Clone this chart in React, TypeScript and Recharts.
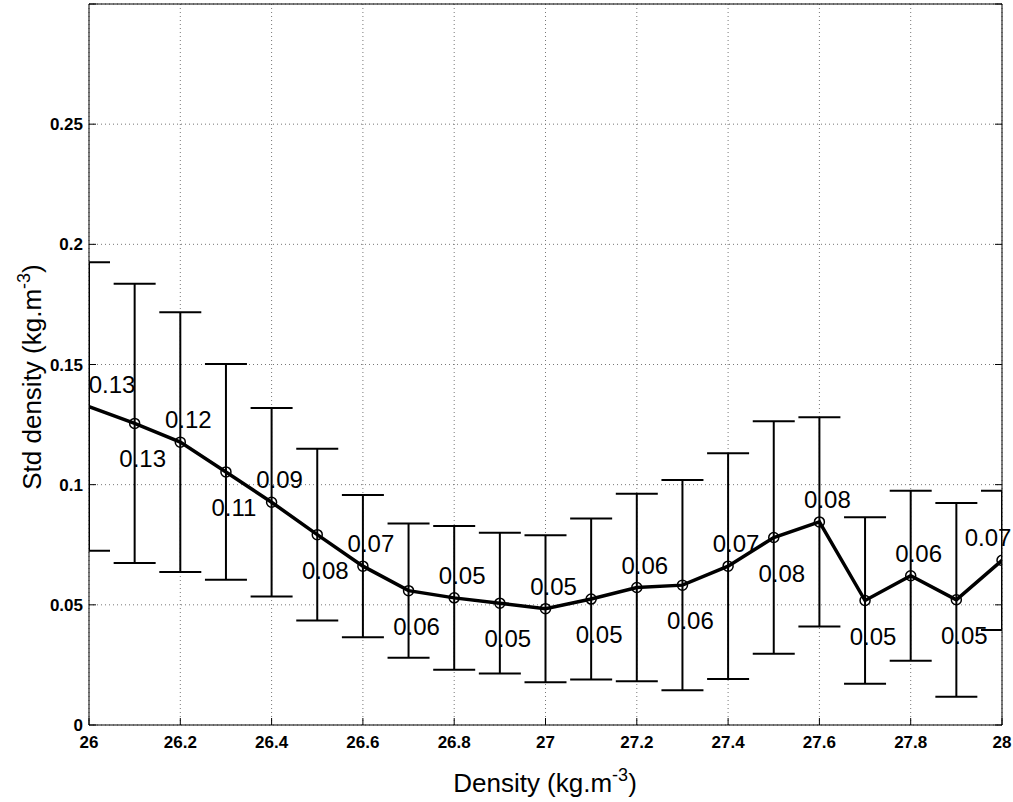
import React from 'react';
import { ComposedChart, Line, XAxis, YAxis, CartesianGrid, ErrorBar, LabelList } from 'recharts';

// density bins (kg.m-3)
const densities = [26, 26.1, 26.2, 26.3, 26.4, 26.5, 26.6, 26.7, 26.8, 26.9, 27, 27.1, 27.2, 27.3, 27.4, 27.5, 27.6, 27.7, 27.8, 27.9, 28];
// mean std of density per bin
const stdValues = [0.1325, 0.1255, 0.1177, 0.1053, 0.0927, 0.0792, 0.0661, 0.0559, 0.0529, 0.0507, 0.0484, 0.0524, 0.0572, 0.0582, 0.0661, 0.078, 0.0845, 0.0518, 0.0621, 0.0521, 0.0685];
// error bar half-lengths
const errValues = [0.06, 0.0581, 0.054, 0.0449, 0.0392, 0.0357, 0.0296, 0.0279, 0.0299, 0.0293, 0.0306, 0.0335, 0.039, 0.0437, 0.047, 0.0484, 0.0435, 0.0346, 0.0354, 0.0403, 0.029];
// text printed next to each point
const pointLabels = ['0.13', '0.13', '0.12', '0.11', '0.09', '0.08', '0.07', '0.06', '0.05', '0.05', '0.05', '0.05', '0.06', '0.06', '0.07', '0.08', '0.08', '0.05', '0.06', '0.05', '0.07'];

const xTicks = [26, 26.2, 26.4, 26.6, 26.8, 27, 27.2, 27.4, 27.6, 27.8, 28];
const yTicks = [0, 0.05, 0.1, 0.15, 0.2, 0.25, 0.3];
const yTickLabels = ['0', '0.05', '0.1', '0.15', '0.2', '0.25', ''];

const data = densities.map((d, i) => ({
  density: d,
  std: stdValues[i],
  err: errValues[i],
  label: pointLabels[i],
}));

const FONT = '"Liberation Sans", Arial, Helvetica, sans-serif';
const TICK_LEN = 7;

const BottomTick = (props: any) => {
  const { x, y, payload } = props;
  return (
    <g>
      <line x1={x} y1={y} x2={x} y2={y - TICK_LEN} stroke="#000" strokeWidth={1} />
      <text x={x} y={y + 23} textAnchor="middle" fontFamily={FONT} fontSize={17} fontWeight="bold" fill="#000">
        {payload.value}
      </text>
    </g>
  );
};

const LeftTick = (props: any) => {
  const { x, y, payload, index } = props;
  return (
    <g>
      <line x1={x} y1={y} x2={x + TICK_LEN} y2={y} stroke="#000" strokeWidth={1} />
      <text x={x - 6} y={y + 6} textAnchor="end" fontFamily={FONT} fontSize={17} fontWeight="bold" fill="#000">
        {yTickLabels[index] ?? payload.value}
      </text>
    </g>
  );
};

const TopTick = (props: any) => {
  const { x, y } = props;
  return <line x1={x} y1={y} x2={x} y2={y + TICK_LEN} stroke="#000" strokeWidth={1} />;
};

const RightTick = (props: any) => {
  const { x, y } = props;
  return <line x1={x} y1={y} x2={x - TICK_LEN} y2={y} stroke="#000" strokeWidth={1} />;
};

const HollowDot = (props: any) => {
  const { cx, cy, index } = props;
  if (index === 0 || cx == null) return <g key={`dot-${index}`} />;
  return <circle key={`dot-${index}`} cx={cx} cy={cy} r={5} fill="none" stroke="#000" strokeWidth={1.5} />;
};

const PointLabel = (props: any) => {
  const { x, y, value, index } = props;
  const above = index % 2 === 0;
  const cx = Math.min(Math.max(x + 8, 112), 988);
  const cy = above ? y - 22 : y + 36;
  return (
    <text x={cx} y={cy} dy={8} textAnchor="middle" fontFamily={FONT} fontSize={24} fill="#000">
      {value}
    </text>
  );
};

export default function App() {
  return (
    <div style={{ position: 'absolute', left: 0, top: 0, width: 1013, height: 802, background: '#fff' }}>
      <style>{`.recharts-errorBars, .recharts-errorBar { clip-path: url(#plotAreaClip); }`}</style>
      <svg width={0} height={0} style={{ position: 'absolute' }}>
        <defs>
          <clipPath id="plotAreaClip" clipPathUnits="userSpaceOnUse">
            <rect x={89} y={4} width={913} height={721} />
          </clipPath>
        </defs>
      </svg>
      <ComposedChart width={1013} height={802} data={data} margin={{ top: 0, right: 0, bottom: 0, left: 0 }}>
        <CartesianGrid stroke="#777" strokeDasharray="1 3" />
        <XAxis
          dataKey="density"
          type="number"
          domain={[26, 28]}
          ticks={xTicks}
          allowDataOverflow
          height={77}
          tickSize={0}
          tickMargin={0}
          tick={<BottomTick />}
          axisLine={{ stroke: '#000' }}
          interval={0}
        />
        <XAxis
          xAxisId="top"
          orientation="top"
          type="number"
          domain={[26, 28]}
          ticks={xTicks}
          allowDataOverflow
          height={4}
          tickSize={0}
          tickMargin={0}
          tick={<TopTick />}
          axisLine={{ stroke: '#000' }}
          interval={0}
        />
        <YAxis
          type="number"
          domain={[0, 0.3]}
          ticks={yTicks}
          allowDataOverflow
          width={89}
          tickSize={0}
          tickMargin={0}
          tick={<LeftTick />}
          axisLine={{ stroke: '#000' }}
          interval={0}
        />
        <YAxis
          yAxisId="right"
          orientation="right"
          type="number"
          domain={[0, 0.3]}
          ticks={yTicks}
          allowDataOverflow
          width={11}
          tickSize={0}
          tickMargin={0}
          tick={<RightTick />}
          axisLine={{ stroke: '#000' }}
          interval={0}
        />
        <Line
          dataKey="std"
          stroke="#000"
          strokeWidth={3.5}
          type="linear"
          dot={<HollowDot />}
          activeDot={false}
          isAnimationActive={false}
        >
          <ErrorBar dataKey="err" width={21} strokeWidth={2} stroke="#000" direction="y" isAnimationActive={false} />
          <LabelList dataKey="label" content={<PointLabel />} />
        </Line>
      </ComposedChart>
      <svg width={1013} height={802} style={{ position: 'absolute', left: 0, top: 0, pointerEvents: 'none' }}>
        <text x={545} y={792} textAnchor="middle" fontFamily={FONT} fontSize={26} fill="#000">
          Density (kg.m<tspan dy={-11} fontSize={18}>-3</tspan><tspan dy={11}>)</tspan>
        </text>
        <text transform="translate(41 377) rotate(-90)" textAnchor="middle" fontFamily={FONT} fontSize={26} fill="#000">
          Std density (kg.m<tspan dy={-11} fontSize={18}>-3</tspan><tspan dy={11}>)</tspan>
        </text>
      </svg>
    </div>
  );
}
